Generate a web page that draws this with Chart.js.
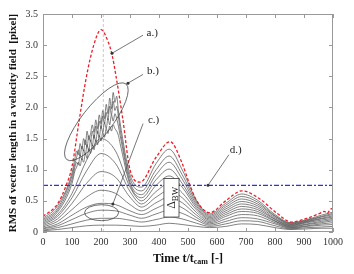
<!DOCTYPE html>
<html>
<head>
<meta charset="utf-8">
<script src="https://cdn.jsdelivr.net/npm/chart.js@4/dist/chart.umd.min.js"></script>
<style>
  html, body { margin: 0; padding: 0; background: #fff; }
  #rms { display: block; }
</style>
</head>
<body>
<canvas id="rms" width="354" height="274"></canvas>
<script>
//1) DATA//
const xTickLabels = ['0', '100', '200', '300', '400', '500', '600', '700', '800', '900', '1000'];
const yTickLabels = ['0', '0.5', '1.0', '1.5', '2.0', '2.5', '3.0', '3.5'];

// a.) upper envelope (red)
const redTime = [0, 50, 80, 100, 125, 150, 175, 200, 225, 238, 250, 275, 300, 335, 390, 438, 480, 503, 530, 575, 630, 686, 748, 807, 857, 910, 955, 970, 980, 990, 1000];
const redCurve = [0.25, 0.45, 0.75, 1.05, 1.8, 2.5, 3.0, 3.25, 3.05, 2.85, 2.55, 1.82, 1.0, 0.8, 1.2, 1.45, 1.1, 0.8, 0.5, 0.31, 0.5, 0.66, 0.53, 0.3, 0.16, 0.22, 0.3, 0.33, 0.3, 0.36, 0.38];

// smooth family
const time = [0, 50, 100, 150, 200, 250, 300, 340, 390, 435, 480, 530, 575, 630, 685, 740, 800, 855, 910, 960, 1000];
const curve5 = [0.14, 0.28, 0.62, 1.15, 1.5, 1.3, 0.72, 0.5, 0.75, 0.9, 0.72, 0.38, 0.21, 0.34, 0.45, 0.39, 0.21, 0.11, 0.16, 0.21, 0.24];
const curve6 = [0.12, 0.25, 0.55, 0.98, 1.26, 1.1, 0.65, 0.45, 0.65, 0.78, 0.63, 0.35, 0.19, 0.31, 0.41, 0.36, 0.2, 0.1, 0.15, 0.19, 0.22];
const curve7 = [0.1, 0.21, 0.46, 0.78, 0.97, 0.88, 0.56, 0.4, 0.56, 0.67, 0.55, 0.31, 0.17, 0.28, 0.37, 0.33, 0.18, 0.09, 0.13, 0.17, 0.2];
const curve8 = [0.08, 0.17, 0.36, 0.56, 0.67, 0.62, 0.44, 0.34, 0.47, 0.56, 0.47, 0.27, 0.15, 0.25, 0.33, 0.3, 0.17, 0.08, 0.12, 0.15, 0.18];
const curve9 = [0.06, 0.13, 0.27, 0.4, 0.46, 0.44, 0.34, 0.28, 0.38, 0.46, 0.39, 0.23, 0.13, 0.21, 0.28, 0.26, 0.15, 0.07, 0.1, 0.13, 0.15];
const curve10 = [0.05, 0.1, 0.2, 0.3, 0.35, 0.34, 0.27, 0.22, 0.29, 0.35, 0.3, 0.19, 0.11, 0.17, 0.23, 0.21, 0.13, 0.06, 0.09, 0.11, 0.12];
const curve11 = [0.03, 0.07, 0.13, 0.19, 0.22, 0.22, 0.19, 0.16, 0.2, 0.24, 0.21, 0.14, 0.09, 0.13, 0.18, 0.17, 0.1, 0.05, 0.07, 0.08, 0.09];
const curve12 = [0.02, 0.04, 0.07, 0.1, 0.11, 0.11, 0.1, 0.09, 0.11, 0.14, 0.12, 0.09, 0.07, 0.09, 0.13, 0.12, 0.07, 0.04, 0.05, 0.06, 0.06];

// b.) noisy curves: smooth part on "time", jagged part on "noisyTime"
const curve1 = [0.22, 0.42, 0.95, null, null, null, 0.92, 0.72, 1.1, 1.33, 1.0, 0.5, 0.29, 0.46, 0.61, 0.51, 0.28, 0.15, 0.2, 0.27, 0.32];
const curve2 = [0.2, 0.38, 0.9, null, null, null, 0.86, 0.66, 1.0, 1.22, 0.92, 0.47, 0.27, 0.43, 0.57, 0.48, 0.26, 0.14, 0.19, 0.25, 0.3];
const curve3 = [0.18, 0.35, 0.84, null, null, null, 0.8, 0.6, 0.92, 1.12, 0.85, 0.44, 0.25, 0.4, 0.53, 0.45, 0.25, 0.13, 0.18, 0.24, 0.28];
const curve4 = [0.16, 0.32, 0.78, null, null, null, 0.76, 0.55, 0.84, 1.01, 0.78, 0.41, 0.23, 0.37, 0.49, 0.42, 0.23, 0.12, 0.17, 0.22, 0.26];
const noisyTime = [110, 116, 122, 128, 134, 140, 146, 152, 158, 164, 170, 176, 182, 188, 194, 200, 206, 212, 218, 224, 230, 236, 242, 248, 254, 260, 266];
const noisy1 = [1.18, 1.3, 1.24, 1.42, 1.33, 1.5, 1.4, 1.62, 1.48, 1.58, 1.72, 1.6, 1.8, 1.66, 1.88, 1.74, 1.95, 1.82, 2.05, 1.9, 2.15, 1.98, 2.24, 2.08, 2.18, 1.95, 1.75];
const noisy2 = [1.1, 1.2, 1.32, 1.22, 1.38, 1.3, 1.48, 1.36, 1.55, 1.45, 1.62, 1.5, 1.7, 1.58, 1.78, 1.66, 1.86, 1.74, 1.92, 1.8, 2.02, 1.88, 2.1, 1.95, 2.02, 1.85, 1.65];
const noisy3 = [1.04, 1.12, 1.08, 1.24, 1.16, 1.32, 1.24, 1.4, 1.3, 1.48, 1.38, 1.56, 1.45, 1.62, 1.52, 1.7, 1.6, 1.76, 1.66, 1.82, 1.72, 1.88, 1.78, 1.9, 1.82, 1.7, 1.55];
const noisy4 = [0.98, 1.04, 1.12, 1.06, 1.18, 1.12, 1.26, 1.18, 1.34, 1.26, 1.4, 1.32, 1.48, 1.4, 1.55, 1.46, 1.6, 1.52, 1.66, 1.58, 1.7, 1.62, 1.72, 1.66, 1.62, 1.55, 1.42];

// d.) threshold and peak marker
const threshold = 0.75;
const peakTime = 208;

//2) HELPERS//
const FONT = "'Liberation Serif', 'Times New Roman', serif";

function toPoints(xs, ys) {
   return xs.map((x, i) => ({ x: x, y: ys[i] })).filter(p => p.y !== null && p.y !== undefined);
}
function noisyPoints(smooth, noisy) {
   return toPoints(time, smooth).concat(toPoints(noisyTime, noisy)).sort((a, b) => a.x - b.x);
}
function blackLine(points) {
   return {
      data: points,
      borderColor: '#4a4a4a',
      borderWidth: 0.7,
      pointRadius: 0,
      showLine: true,
      cubicInterpolationMode: 'monotone'
   };
}

const datasets = [
   {
      data: toPoints(redTime, redCurve),
      borderColor: '#e8202a',
      borderWidth: 1.3,
      borderDash: [3, 2],
      pointRadius: 0,
      showLine: true,
      cubicInterpolationMode: 'monotone'
   },
   {
      data: [{ x: 0, y: threshold }, { x: 1000, y: threshold }],
      borderColor: '#2f2ff0',
      borderWidth: 1.3,
      borderDash: [5, 2, 2, 2],
      pointRadius: 0,
      showLine: true
   },
   blackLine(noisyPoints(curve1, noisy1)),
   blackLine(noisyPoints(curve2, noisy2)),
   blackLine(noisyPoints(curve3, noisy3)),
   blackLine(noisyPoints(curve4, noisy4)),
   blackLine(toPoints(time, curve5)),
   blackLine(toPoints(time, curve6)),
   blackLine(toPoints(time, curve7)),
   blackLine(toPoints(time, curve8)),
   blackLine(toPoints(time, curve9)),
   blackLine(toPoints(time, curve10)),
   blackLine(toPoints(time, curve11)),
   blackLine(toPoints(time, curve12)),
   {
      data: [{ x: peakTime, y: 0 }, { x: peakTime, y: 3.5 }],
      borderColor: '#c8c8c8',
      borderWidth: 1,
      borderDash: [3, 2],
      pointRadius: 0,
      showLine: true
   }
];

//3) ANNOTATIONS//
const annotations = {
   id: 'annotations',
   afterDatasetsDraw(chart) {
      const ctx = chart.ctx;
      const xs = chart.scales.x, ys = chart.scales.y;
      const px = v => xs.getPixelForValue(v);
      const py = v => ys.getPixelForValue(v);
      ctx.save();

      // delta box
      const bx0 = px(417), bx1 = px(469), by0 = py(0.86), by1 = py(0.24);
      ctx.fillStyle = '#fff';
      ctx.fillRect(bx0, by0, bx1 - bx0, by1 - by0);
      ctx.strokeStyle = '#333';
      ctx.lineWidth = 0.8;
      ctx.strokeRect(bx0, by0, bx1 - bx0, by1 - by0);
      ctx.translate((bx0 + bx1) / 2 + 4, (by0 + by1) / 2);
      ctx.rotate(-Math.PI / 2);
      ctx.fillStyle = '#222';
      ctx.textBaseline = 'alphabetic';
      ctx.font = '12px ' + FONT;
      ctx.textAlign = 'left';
      const dw = ctx.measureText('Δ').width;
      ctx.font = '9px ' + FONT;
      const sw = ctx.measureText('BW').width;
      const start = -(dw + sw) / 2;
      ctx.font = '12px ' + FONT;
      ctx.fillText('Δ', start, 0);
      ctx.font = '9px ' + FONT;
      ctx.fillText('BW', start + dw, 3);
      ctx.setTransform(1, 0, 0, 1, 0, 0);

      // ellipses
      ctx.strokeStyle = '#444';
      ctx.lineWidth = 0.8;
      ctx.beginPath();
      ctx.ellipse(px(184), py(1.77), 48, 15, -52 * Math.PI / 180, 0, Math.PI * 2);
      ctx.stroke();
      ctx.beginPath();
      ctx.ellipse(px(202), py(0.31), 17, 8, 0, 0, Math.PI * 2);
      ctx.stroke();

      // leaders and labels
      const leaders = [
         { text: 'a.)', lx: 357, ly: 3.19, fx: 345, fy: 3.16, tx: 238, ty: 2.87 },
         { text: 'b.)', lx: 359, ly: 2.58, fx: 345, fy: 2.53, tx: 293, ty: 2.39 },
         { text: 'c.)', lx: 362, ly: 1.80, fx: 345, fy: 1.74, tx: 241, ty: 0.45 },
         { text: 'd.)', lx: 644, ly: 1.32, fx: 641, fy: 1.24, tx: 569, ty: 0.75 }
      ];
      ctx.font = '11px ' + FONT;
      ctx.textAlign = 'left';
      ctx.textBaseline = 'middle';
      leaders.forEach(l => {
         ctx.strokeStyle = '#555';
         ctx.lineWidth = 0.8;
         ctx.beginPath();
         ctx.moveTo(px(l.fx), py(l.fy));
         ctx.lineTo(px(l.tx), py(l.ty));
         ctx.stroke();
         ctx.fillStyle = '#333';
         ctx.beginPath();
         ctx.arc(px(l.tx), py(l.ty), 1.5, 0, Math.PI * 2);
         ctx.fill();
         ctx.fillStyle = '#222';
         ctx.fillText(l.text, px(l.lx), py(l.ly));
      });
      ctx.restore();
   },
   afterDraw(chart) {
      const ctx = chart.ctx;
      const a = chart.chartArea;
      const xs = chart.scales.x, ys = chart.scales.y;
      ctx.save();

      // frame with inward ticks on all sides
      ctx.strokeStyle = '#999';
      ctx.lineWidth = 1;
      ctx.strokeRect(a.left + 0.5, a.top + 0.5, a.right - a.left - 1, a.bottom - a.top - 1);
      ctx.beginPath();
      xs.ticks.forEach(t => {
         const x = Math.round(xs.getPixelForValue(t.value)) + 0.5;
         ctx.moveTo(x, a.bottom); ctx.lineTo(x, a.bottom - 4);
         ctx.moveTo(x, a.top); ctx.lineTo(x, a.top + 4);
      });
      ys.ticks.forEach(t => {
         const y = Math.round(ys.getPixelForValue(t.value)) + 0.5;
         ctx.moveTo(a.left, y); ctx.lineTo(a.left + 4, y);
         ctx.moveTo(a.right, y); ctx.lineTo(a.right - 4, y);
      });
      ctx.stroke();

      // x title with subscript
      ctx.fillStyle = '#111';
      ctx.textBaseline = 'alphabetic';
      ctx.textAlign = 'left';
      ctx.font = 'bold 12px ' + FONT;
      const p1 = 'Time t/t', p3 = ' [-]';
      const w1 = ctx.measureText(p1).width, w3 = ctx.measureText(p3).width;
      ctx.font = 'bold 8px ' + FONT;
      const w2 = ctx.measureText('cam').width;
      let x = (a.left + a.right) / 2 - (w1 + w2 + w3) / 2;
      const yb = 262;
      ctx.font = 'bold 12px ' + FONT;
      ctx.fillText(p1, x, yb);
      ctx.font = 'bold 8px ' + FONT;
      ctx.fillText('cam', x + w1, yb + 2);
      ctx.font = 'bold 12px ' + FONT;
      ctx.fillText(p3, x + w1 + w2, yb);

      // y title
      ctx.translate(13, (a.top + a.bottom) / 2);
      ctx.rotate(-Math.PI / 2);
      ctx.textAlign = 'center';
      ctx.textBaseline = 'middle';
      ctx.font = 'bold 11px ' + FONT;
      ctx.fillText('RMS of vector length in a velocity field  [pixel]', 0, 0);
      ctx.restore();
   }
};

//4) CHART//
const ctx_rms = document.getElementById('rms').getContext('2d');
const rmsChart = new Chart(ctx_rms, {
   type: 'scatter',
   data: { datasets: datasets },
   options: {
      responsive: false,
      animation: false,
      devicePixelRatio: 1,
      layout: { padding: { top: 14, right: 21, left: 0, bottom: 0 } },
      plugins: { legend: { display: false }, tooltip: { enabled: false } },
      scales: {
         x: {
            type: 'linear',
            min: 0,
            max: 1000,
            afterFit: s => { s.height = 42; },
            grid: { display: false, drawTicks: false },
            border: { display: false },
            ticks: {
               stepSize: 100,
               padding: 4,
               autoSkip: false,
               maxRotation: 0,
               color: '#333',
               font: { family: FONT, size: 10 },
               callback: (v, i) => xTickLabels[i]
            }
         },
         y: {
            min: 0,
            max: 3.5,
            afterFit: s => { s.width = 43; },
            grid: { display: false, drawTicks: false },
            border: { display: false },
            ticks: {
               stepSize: 0.5,
               padding: 5,
               color: '#333',
               font: { family: FONT, size: 10 },
               callback: (v, i) => yTickLabels[i]
            }
         }
      }
   },
   plugins: [annotations]
});
</script>
</body>
</html>
